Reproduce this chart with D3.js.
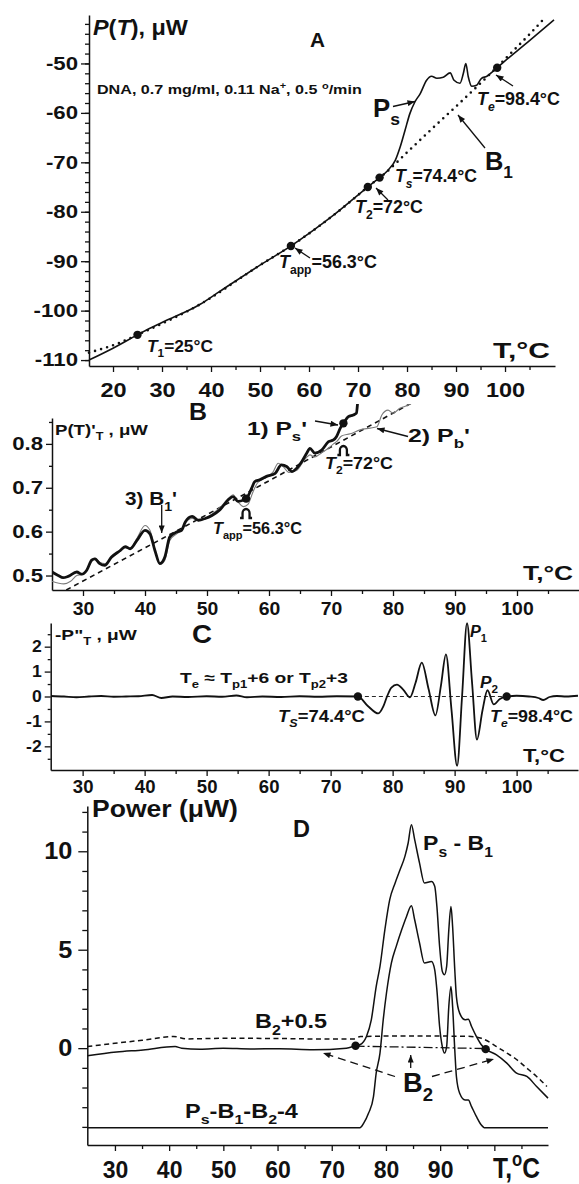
<!DOCTYPE html>
<html><head><meta charset="utf-8">
<script src="https://cdn.jsdelivr.net/npm/d3@7"></script>
<style>
body{margin:0;background:#fff}
svg{display:block}
text{font-family:"Liberation Sans",Arial,Helvetica,sans-serif;font-weight:bold;fill:#111}
</style></head><body>
<svg id="fig" width="579" height="1184"></svg>
<script>
// ---------- Panel A: heat power of sample P_s and baseline B1 (µW vs °C)
const psA = [[15.1,-110.0],[20,-107.6],[26.1,-104.3],[30,-102.4],[37.8,-98.7],[41.8,-96.1],[50,-90.8],[56.5,-86.8],[65,-80.7],[73.1,-74.1],[75.3,-72.4],[76.3,-71.4],[77.6,-69.6],[78.6,-66.9],[79.6,-63.5],[80.6,-60.1],[81.6,-57.8],[82.7,-56.1],[84.0,-53.4],[85.0,-52.6],[86.1,-53.0],[87.4,-52.8],[88.8,-51.9],[89.6,-53.4],[90.8,-54.0],[91.5,-52.0],[92.0,-50.0],[92.5,-52.7],[93.2,-54.6],[94.2,-54.4],[95.2,-53.0],[96.3,-52.6],[97.3,-51.8],[100,-49.5],[105,-45.4],[110,-41.2]];
const b1A = [[15.1,-108.5],[20.8,-106.7],[26.1,-104.4],[37.8,-98.7],[50,-90.8],[56.5,-86.8],[65,-80.7],[73.1,-74.1],[75.3,-72.4],[80,-68.0],[85,-63.3],[90,-58.7],[95,-54.0],[97.3,-51.8],[100,-49.1],[105,-44.1],[108.3,-40.6]];
const markA = [25, 56.3, 72, 74.4, 98.4];
const aXMajor = [20,30,40,50,60,70,80,90,100];
const aXMinor = [25,35,45,55,65,75,85,95,105];
const aYMajor = [-110,-100,-90,-80,-70,-60,-50];
const aYMinor = d3.range(-110,-41,2);

// ---------- Panel B: first derivatives P'_s, P'_b and B1'
const psB = [[25.0,0.508],[26.0,0.500],[26.8,0.495],[27.6,0.498],[29.0,0.508],[29.8,0.503],[30.6,0.512],[31.4,0.535],[31.9,0.538],[32.7,0.527],[33.5,0.523],[34.6,0.542],[36.0,0.557],[36.8,0.566],[37.6,0.561],[38.7,0.580],[40.0,0.603],[40.8,0.595],[41.6,0.557],[42.4,0.527],[43.2,0.542],[44.0,0.588],[45.1,0.599],[45.9,0.603],[46.5,0.622],[47.6,0.635],[48.6,0.626],[49.7,0.630],[50.8,0.637],[52.1,0.650],[53.4,0.672],[54.2,0.680],[55.0,0.669],[55.9,0.672],[56.4,0.676],[57.2,0.699],[57.7,0.714],[58.5,0.718],[59.6,0.726],[61.0,0.733],[62.0,0.752],[62.9,0.748],[63.7,0.737],[64.5,0.745],[65.3,0.760],[66.1,0.779],[66.6,0.790],[67.4,0.779],[68.5,0.786],[69.6,0.805],[70.4,0.809],[70.9,0.817],[71.5,0.836],[72.1,0.849],[72.8,0.862],[73.6,0.866],[74.1,0.870],[74.3,0.895],[74.5,0.93]];
const pbB = [[25.0,0.487],[26.9,0.481],[28.0,0.487],[29.0,0.500],[30.0,0.503],[31.4,0.532],[32.0,0.540],[32.7,0.530],[33.5,0.527],[34.6,0.540],[36.0,0.555],[36.8,0.563],[37.6,0.562],[38.7,0.585],[40.0,0.614],[40.8,0.603],[41.6,0.560],[42.4,0.525],[43.2,0.535],[44.0,0.580],[45.1,0.595],[46.0,0.605],[46.5,0.620],[47.6,0.630],[48.6,0.625],[49.7,0.630],[50.8,0.640],[52.1,0.655],[53.4,0.675],[54.2,0.684],[55.0,0.668],[55.9,0.657],[56.6,0.662],[57.4,0.690],[58.2,0.712],[59.6,0.724],[60.6,0.735],[61.5,0.756],[62.3,0.748],[63.2,0.735],[64.5,0.740],[65.3,0.755],[66.1,0.770],[66.6,0.775],[67.4,0.770],[68.5,0.780],[69.6,0.790],[70.4,0.800],[70.9,0.805],[71.7,0.818],[73.1,0.823],[74.7,0.832],[76.3,0.836],[77.4,0.839],[78.2,0.866],[79.2,0.877],[80.0,0.870],[81.1,0.881],[82.5,0.889],[83.5,0.9]];
const b1B = [[27.3,0.467],[50.8,0.645],[83.5,0.897]];
const markB = [56.3, 72];
const bXMajor = [30,40,50,60,70,80,90,100];
const bXMinor = [35,45,55,65,75,85,95,105];
const bYMajor = [0.5,0.6,0.7,0.8];
const bYMinor = [0.55,0.65,0.75,0.85];

// ---------- Panel C: second derivative -P''_T
const pC = [[24.9,0.02],[27,0.0],[29,-0.03],[31,0.0],[33,0.02],[35,-0.01],[37,0.0],[39,0.01],[41.2,0.06],[42.7,-0.06],[44.5,0.0],[47,-0.02],[50,0.01],[52.5,-0.01],[54.8,0.04],[56.5,-0.03],[59,0.0],[62,-0.02],[65,0.01],[68,-0.01],[71,0.01],[74.4,0.0],[76,-0.38],[77.7,-0.68],[78.5,-0.4],[79.1,0.0],[79.8,0.36],[80.7,0.48],[81.7,0.28],[82.8,-0.03],[83.7,0.55],[84.7,1.36],[85.8,0.3],[86.9,-0.76],[87.8,0.45],[88.6,1.69],[89.5,-0.55],[90.4,-2.78],[91.2,0.0],[92.0,2.94],[92.8,0.6],[93.6,-1.73],[94.5,-0.55],[95.3,0.25],[96.3,-0.32],[97.3,-0.1],[98.4,0.0],[100,0.03],[102,0.0],[103.5,-0.06],[104.3,-0.14],[105.3,-0.02],[106.5,0.02],[108,0.0],[109.9,0.03]];
const markC = [74.4, 98.4];
const cYMajor = [-2,-1,0,1,2];
const cYMinor = [-2.5,-1.5,-0.5,0.5,1.5,2.5];

// ---------- Panel D: excess power P_s - B1, baseline B2 and P_s-B1-B2-4
const psB1D = [[24.9,-0.39],[30.3,-0.2],[35.2,-0.09],[41.1,0.08],[42.3,0.0],[45.7,-0.05],[50,0.0],[55,-0.04],[60.4,-0.03],[66.6,-0.08],[72.7,0.0],[74.4,0.12],[75.2,0.17],[76.4,0.59],[77.3,1.44],[78.2,3.13],[78.9,4.15],[79.8,6.01],[80.7,7.54],[81.7,8.39],[82.6,9.06],[83.5,9.74],[84.1,10.42],[84.7,11.35],[85.3,10.59],[86.2,9.4],[87.1,8.39],[88.4,8.47],[89.0,8.22],[89.4,7.2],[89.9,5.17],[90.4,3.9],[90.8,3.73],[91.2,4.15],[91.6,6.01],[92.0,7.2],[92.3,6.18],[92.7,3.98],[93.0,2.62],[93.6,1.78],[94.6,1.44],[95.2,1.47],[95.8,1.1],[96.7,0.59],[97.6,0.17],[98.4,-0.05],[100.4,-0.34],[102.3,-0.76],[104.1,-1.27],[106.0,-1.44],[107.8,-1.95],[109.9,-2.54]];
const b2HalfD = [[24.9,0.08],[30,0.25],[35,0.4],[40.8,0.59],[43.3,0.47],[50,0.5],[60,0.49],[70,0.46],[74.0,0.46],[75.3,0.59],[85,0.62],[95,0.6],[97.6,0.5],[100.4,0.08],[102.3,-0.25],[103.5,-0.45],[106,-1.02],[107.8,-1.44],[109.7,-1.95]];
const b2D = [[74.4,0.1],[98.4,-0.02]];
const lowD = [[24.9,-4.05],[75.2,-4.05],[75.9,-3.81],[76.8,-3.3],[77.7,-2.46],[78.2,-1.27],[78.9,-0.25],[79.5,1.44],[80.1,2.8],[81.0,4.32],[81.9,5.17],[82.9,6.01],[83.8,6.69],[84.7,7.23],[85.3,6.52],[86.2,5.34],[87.1,4.32],[88.4,4.4],[89.0,3.98],[89.4,2.96],[89.9,1.1],[90.4,0.08],[90.8,-0.25],[91.2,0.08],[91.6,2.12],[92.0,3.13],[92.3,2.12],[92.7,-0.08],[93.0,-1.44],[93.6,-2.29],[94.6,-2.63],[95.2,-2.63],[95.8,-2.97],[96.7,-3.48],[97.6,-3.9],[98.3,-4.05],[109.9,-4.05]];
const markD = [74.4, 98.4];
const dXMajor = [30,40,50,60,70,80,90,100];
const dXLabels = ["30","40","50","60","70","80","90",""];
const dXMinor = [35,45,55,65,75,85,95,105];
const dYMajor = [0,5,10];
const dYMinor = d3.range(-4,13,1);

// ---------- helpers
const svg = d3.select("#fig");
const defs = svg.append("defs");
defs.append("marker").attr("id","ah").attr("viewBox","0 0 10 8")
  .attr("markerUnits","userSpaceOnUse").attr("markerWidth",9).attr("markerHeight",6)
  .attr("refX",10).attr("refY",4).attr("orient","auto")
  .append("path").attr("d","M0,0L10,4L0,8z").attr("fill","#111");

function interp(series, t){
  for(let i=1;i<series.length;i++){
    const [t0,v0]=series[i-1],[t1,v1]=series[i];
    if(t>=t0 && t<=t1) return v0+(v1-v0)*(t-t0)/(t1-t0);
  }
  return series[series.length-1][1];
}

// text with italic / subscript / superscript runs, stretched horizontally to a given width
function rich(g, x, y, size, parts, width){
  const t = g.append("text").attr("x",x).attr("y",y).attr("font-size",size);
  let off = 0;
  for(const p of parts){
    const [s,f] = typeof p==="string" ? [p,""] : p;
    let target=0, fs=size;
    if(f.includes("b")){ target=size*0.32; fs=size*0.68; }
    if(f.includes("p")){ target=-size*0.4; fs=size*0.68; }
    const ts = t.append("tspan").text(s).attr("dy",target-off).attr("font-size",fs);
    if(f.includes("i")) ts.attr("font-style","italic");
    off = target;
  }
  if(width){
    const w = t.node().getComputedTextLength();
    t.attr("transform",`translate(${x},0) scale(${width/w},1) translate(${-x},0)`);
  }
  return t;
}

function arrow(g, x1,y1,x2,y2, dash){
  const l = g.append("line").attr("x1",x1).attr("y1",y1).attr("x2",x2).attr("y2",y2)
    .attr("stroke","#111").attr("stroke-width",1.3).attr("marker-end","url(#ah)");
  if(dash) l.attr("stroke-dasharray",dash);
}

// small arch-shaped pointer placed under a marked point
function arch(g, cx, bottom){
  g.append("path")
    .attr("d",`M${cx-6},${bottom}H${cx-3.5}V${bottom-5}A3.5,4 0 0 1 ${cx+3.5},${bottom-5}V${bottom}H${cx+6}`)
    .attr("fill","none").attr("stroke","#111").attr("stroke-width",2.3);
}

function xAxis(g, x, y0, major, minor, labels, size, stretch, baseline){
  const tick = 6;
  const pad = baseline - tick - 0.71*size;
  const ax = g.append("g").attr("transform",`translate(0,${y0})`)
    .call(d3.axisBottom(x).tickValues(major).tickSize(tick).tickSizeOuter(0).tickPadding(pad)
      .tickFormat((d,i)=>labels ? labels[i] : String(d)));
  ax.selectAll("text").attr("font-size",size).attr("fill","#111").attr("font-family",null)
    .attr("transform",`scale(${stretch},1)`);
  g.append("g").attr("transform",`translate(0,${y0})`)
    .call(d3.axisBottom(x).tickValues(minor).tickSize(4).tickSizeOuter(0).tickFormat(""))
    .select(".domain").remove();
  styleAxis(g);
}

function yAxis(g, y, x0, major, minor, fmt, size, stretch, tick, pad){
  const ax = g.append("g").attr("transform",`translate(${x0},0)`)
    .call(d3.axisLeft(y).tickValues(major).tickSize(tick).tickSizeOuter(0).tickPadding(pad).tickFormat(fmt));
  const off = tick+pad;
  ax.selectAll("text").attr("font-size",size).attr("fill","#111").attr("font-family",null)
    .attr("transform",`translate(${-off},0) scale(${stretch},1) translate(${off},0)`);
  g.append("g").attr("transform",`translate(${x0},0)`)
    .call(d3.axisLeft(y).tickValues(minor).tickSize(Math.round(tick*0.55)).tickSizeOuter(0).tickFormat(""))
    .select(".domain").remove();
  styleAxis(g);
}

function styleAxis(g){
  g.selectAll(".domain").attr("stroke","#111").attr("stroke-width",1.5);
  g.selectAll(".tick line").attr("stroke","#111").attr("stroke-width",1.3);
}

function dots(g, x, y, ts, series){
  g.selectAll(null).data(ts).join("circle")
    .attr("cx",t=>x(t)).attr("cy",t=>y(interp(series,t))).attr("r",4.2).attr("fill","#111");
}

// ================= Panel A =================
{
  const x = d3.scaleLinear().domain([15.1,110.2]).range([89,555]);
  const y = d3.scaleLinear().domain([-111.2,-40.2]).range([366,15]);
  const g = svg.append("g");
  xAxis(g, x, 366, aXMajor, aXMinor, null, 21, 1.12, 31);
  yAxis(g, y, 89, aYMajor, aYMinor, d=>String(d), 18.5, 1.2, 8, 3);
  const line = d3.line().x(d=>x(d[0])).y(d=>y(d[1])).curve(d3.curveMonotoneX);
  g.append("path").datum(psA).attr("d",line).attr("fill","none").attr("stroke","#111").attr("stroke-width",1.6);
  g.append("path").datum(b1A).attr("d",line).attr("fill","none").attr("stroke","#111")
    .attr("stroke-width",2.6).attr("stroke-linecap","round").attr("stroke-dasharray","0,6.3");
  dots(g, x, y, markA, psA);

  rich(g, 93, 35, 22, [["P","i"],"(",["T","i"],"), μW"], 95);
  rich(g, 310, 47, 21, ["A"], 15);
  rich(g, 97, 94, 13.5, ["DNA,  0.7 mg/ml, 0.11 Na",["+","p"],", 0.5 ",["o","p"],"/min"], 265);
  rich(g, 373, 117, 25, ["P",["s","b"]], 27);
  rich(g, 485, 170, 25, ["B",["1","b"]], 28);
  rich(g, 477, 105, 18, [["T","i"],["e","bi"],"=98.4°C"], 83);
  rich(g, 395, 182, 18, [["T","i"],["s","bi"],"=74.4°C"], 82);
  rich(g, 355, 213, 18, [["T","i"],["2","b"],"=72°C"], 68);
  rich(g, 279, 268, 18, [["T","i"],["app","b"],"=56.3°C"], 98);
  rich(g, 147, 352, 17, [["T","i"],["1","b"],"=25°C"], 66);
  rich(g, 493, 358, 22, ["T,°C"], 57);

  arrow(g, 393,106.5, 415,101.5);
  arrow(g, 485,148, 458,115);
  arrow(g, 513,86, 496,75);
  arrow(g, 388,200, 376,188);
  arrow(g, 310,258, 295,248);
}

// ================= Panel B =================
{
  const x = d3.scaleLinear().domain([25,110]).range([52,579]);
  const y = d3.scaleLinear().domain([0.467,0.859]).range([590,418]);
  const g = svg.append("g");
  xAxis(g, x, 590, bXMajor, bXMinor, null, 18.5, 1.05, 25);
  yAxis(g, y, 52, bYMajor, bYMinor, d3.format(".1f"), 18.5, 1.2, 6, 3);
  defs.append("clipPath").attr("id","clipB").append("rect").attr("x",52).attr("y",404).attr("width",527).attr("height",186);
  const cg = g.append("g").attr("clip-path","url(#clipB)");
  const line = d3.line().x(d=>x(d[0])).y(d=>y(d[1])).curve(d3.curveMonotoneX);
  cg.append("path").datum(b1B).attr("d",d3.line().x(d=>x(d[0])).y(d=>y(d[1])))
    .attr("fill","none").attr("stroke","#111").attr("stroke-width",1.6).attr("stroke-dasharray","5,4");
  cg.append("path").datum(pbB).attr("d",line).attr("fill","none").attr("stroke","#7a7a7a").attr("stroke-width",1.1);
  cg.append("path").datum(psB).attr("d",line).attr("fill","none").attr("stroke","#111").attr("stroke-width",2.8);
  dots(g, x, y, markB, psB);

  rich(g, 55, 435, 15, ["P(T)'",["T","b"]," , μW"], 93);
  rich(g, 189, 420, 24, ["B"], 18);
  rich(g, 247, 435, 18, ["1)  P",["s","b"],"'"], 60);
  rich(g, 408, 442, 19, ["2)  P",["b","b"],"'"], 62);
  rich(g, 125, 505, 18, ["3)  B",["1","b"],"'"], 52);
  rich(g, 213, 534, 17, [["T","i"],["app","b"],"=56.3°C"], 89);
  rich(g, 325, 469, 16, [["T","i"],["2","b"],"=72°C"], 68);
  rich(g, 523, 580, 20, ["T,°C"], 50);
  markB.forEach((t,i)=>arch(g, x(t), [518,455][i]));

  arrow(g, 161.7,505, 161.7,533);
  arrow(g, 315,421, 338,425);
  arrow(g, 408,436.5, 377,428.5);
}

// ================= Panel C =================
{
  const x = d3.scaleLinear().domain([24.85,109.9]).range([50.7,578]);
  const y = d3.scaleLinear().domain([-2.95,2.95]).range([770,623]);
  const g = svg.append("g");
  xAxis(g, x, 770, bXMajor, bXMinor, null, 17.5, 1.06, 23);
  yAxis(g, y, 50.7, cYMajor, cYMinor, d=>String(d), 16, 1.1, 6, 3);
  g.append("line").attr("x1",x(markC[0])).attr("x2",x(markC[1])).attr("y1",y(0)).attr("y2",y(0))
    .attr("stroke","#111").attr("stroke-width",0.9).attr("stroke-dasharray","4,3");
  const line = d3.line().x(d=>x(d[0])).y(d=>y(d[1])).curve(d3.curveMonotoneX);
  g.append("path").datum(pC).attr("d",line).attr("fill","none").attr("stroke","#111").attr("stroke-width",1.8);
  dots(g, x, y, markC, pC);

  rich(g, 55, 640, 15, ["-P\"",["T","b"]," , μW"], 82);
  rich(g, 192, 643, 25, ["C"], 20);
  rich(g, 180, 683, 15, ["T",["e","b"]," ≈  T",["p1","b"],"+6  or  T",["p2","b"],"+3"], 168);
  rich(g, 278, 722, 17, [["T","i"],["S","bi"],"=74.4°C"], 87);
  rich(g, 470, 637, 17, [["P","i"],["1","b"]], 17);
  rich(g, 480, 688, 17, [["P","i"],["2","b"]], 18);
  rich(g, 490, 722, 17, [["T","i"],["e","bi"],"=98.4°C"], 83);
  rich(g, 523, 762, 19, ["T,°C"], 42);
}

// ================= Panel D =================
{
  const x = d3.scaleLinear().domain([24.9,109.9]).range([87.3,548]);
  const y = d3.scaleLinear().domain([-4.92,12.3]).range([1145,806]);
  const g = svg.append("g");
  xAxis(g, x, 1145, dXMajor, dXMinor, dXLabels, 23, 1.0, 33);
  yAxis(g, y, 87.3, dYMajor, dYMinor.filter(v=>!dYMajor.includes(v)), d=>String(d), 23, 1.1, 9, 6);
  const line = d3.line().x(d=>x(d[0])).y(d=>y(d[1])).curve(d3.curveMonotoneX);
  g.append("path").datum(b2HalfD).attr("d",line).attr("fill","none").attr("stroke","#111")
    .attr("stroke-width",1.5).attr("stroke-dasharray","5,3.5");
  g.append("path").datum(b2D).attr("d",d3.line().x(d=>x(d[0])).y(d=>y(d[1]))).attr("fill","none")
    .attr("stroke","#111").attr("stroke-width",1.3).attr("stroke-dasharray","9,3,2,3");
  g.append("path").datum(lowD).attr("d",line).attr("fill","none").attr("stroke","#111").attr("stroke-width",1.5);
  g.append("path").datum(psB1D).attr("d",line).attr("fill","none").attr("stroke","#111").attr("stroke-width",1.5);
  dots(g, x, y, markD, psB1D);

  rich(g, 92, 817, 24, ["Power (μW)"], 146);
  rich(g, 293, 837, 24, ["D"], 17);
  rich(g, 423, 850, 21, ["P",["s","b"]," - B",["1","b"]], 70);
  rich(g, 255, 1028, 21, ["B",["2","b"],"+0.5"], 72);
  rich(g, 185, 1118, 20, ["P",["s","b"],"-B",["1","b"],"-B",["2","b"],"-4"], 113);
  rich(g, 403, 1092, 27, ["B",["2","b"]], 30);
  rich(g, 493, 1178, 30, ["T,",["o","p"],"C"], 47);

  arrow(g, 395,1076.5, 323,1053, "8,5");
  arrow(g, 432,1076.5, 494,1059, "8,5");
  arrow(g, 410.7,1068, 410.7,1055);
}
</script>
</body></html>
